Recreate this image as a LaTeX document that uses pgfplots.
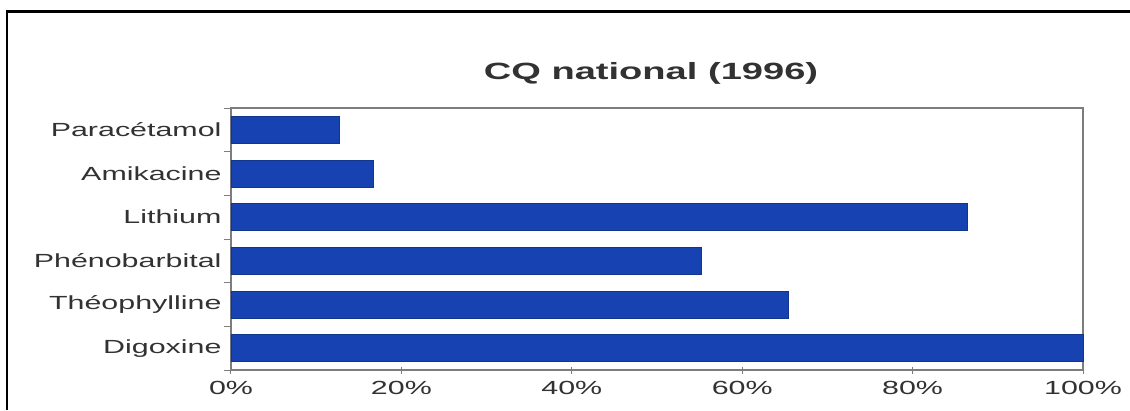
\documentclass[border=0pt]{standalone}
\usepackage{fontspec}
\setmainfont{Liberation Sans}[FakeStretch=1.6]
\newfontfamily\titlefont{Liberation Sans}[FakeStretch=1.62]
\usepackage{pgfplots}
\pgfplotsset{compat=1.18}
\definecolor{barblue}{RGB}{22,66,178}
\definecolor{axisgray}{RGB}{125,125,125}
\definecolor{txt}{RGB}{50,50,50}
\begin{document}
\begin{tikzpicture}[x=1pt,y=1pt]
\useasboundingbox (0,0) rectangle (1130,410);
\draw[line width=2.2pt] (7,0) -- (7,398.5) -- (1130,398.5);
\node[font=\titlefont\bfseries\fontsize{23.5}{26}\selectfont, text=txt] at (651,337) {CQ national (1996)};
\begin{axis}[
  at={(231pt,40pt)}, anchor=south west,
  scale only axis, width=852pt, height=262pt,
  xmin=0, xmax=100, ymin=-0.5, ymax=5.5,
  xbar, bar width=27pt,
  axis line style={axisgray, line width=1.3pt},
  xtick={0,20,40,60,80,100},
  xticklabels={0\%,20\%,40\%,60\%,80\%,100\%},
  xtick pos=bottom, ytick pos=left,
  xtick style={axisgray, line width=1pt},
  xtick align=center, major tick length=7pt,
  ytick={0,1,2,3,4,5},
  yticklabels={Digoxine,Théophylline,Phénobarbital,Lithium,Amikacine,Paracétamol},
  ytick style={draw=none},
  extra y ticks={-0.5,0.5,1.5,2.5,3.5,4.5,5.5},
  extra y tick labels={},
  extra y tick style={ytick style={draw=axisgray, line width=1pt}, tick align=outside, major tick length=7pt},
  xticklabel style={font=\fontsize{19}{20}\selectfont, text=txt, yshift=-4pt},
  yticklabel style={font=\fontsize{19}{20}\selectfont, text=txt, xshift=1pt},
  tick label style={/pgf/number format/assume math mode=true},
  clip=false,
]
\addplot[fill=barblue, draw=barblue!80!black, line width=0.5pt] coordinates {
 (100,0) (65.4,1) (55.2,2) (86.4,3) (16.7,4) (12.7,5)
};
\end{axis}
\end{tikzpicture}
\end{document}
